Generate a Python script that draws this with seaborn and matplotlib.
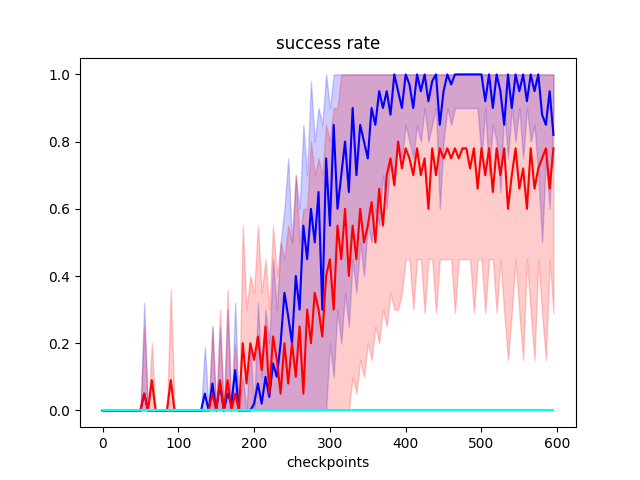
import numpy as np
import matplotlib
matplotlib.use("Agg")
import matplotlib.pyplot as plt
import seaborn as sns

# values sampled every 5 checkpoints, starting at checkpoint 0
blue_mean = [0] * 11 + [
    0.05, 0, 0, 0, 0, 0, 0, 0, 0, 0, 0, 0, 0, 0, 0, 0,
    0.05, 0, 0.08, 0, 0.08, 0, 0.05, 0.02, 0.12, 0, 0, 0, 0,
    0.02, 0.08, 0.02, 0.1, 0.04, 0.14, 0.1, 0.2, 0.35, 0.28, 0.2,
    0.4, 0.3, 0.55, 0.45, 0.6, 0.5, 0.65, 0.3, 0.75, 0.55,
    0.85, 0.6, 0.7, 0.8, 0.65, 0.9, 0.7, 0.85, 0.8, 0.75,
    0.9, 0.85, 0.95, 0.9, 0.95, 0.88, 1.0, 0.95, 0.9, 1.0,
    0.97, 0.9, 1.0, 0.95, 1.0, 0.92, 0.98, 1.0, 0.85, 0.95,
    1.0, 0.97, 1.0, 1.0, 1.0, 1.0, 1.0, 1.0, 1.0, 1.0,
    0.92, 1.0, 0.9, 1.0, 0.95, 0.85, 1.0, 0.9, 1.0, 0.95,
    1.0, 0.92, 1.0, 0.95, 1.0, 0.88, 0.85, 0.95, 0.82, 1.0]
blue_upper = [0] * 11 + [
    0.32, 0, 0, 0, 0, 0, 0, 0, 0, 0, 0, 0, 0, 0, 0, 0,
    0.19, 0, 0.25, 0, 0.25, 0, 0.3, 0, 0.32, 0, 0.1, 0, 0.2,
    0, 0.32, 0.1, 0.3, 0.2, 0.45, 0.3, 0.5, 0.6, 0.75, 0.5,
    0.7, 0.6, 0.85, 0.7, 0.98, 0.8, 0.9, 0.85, 1.0, 0.9] + [1.0] * 59
blue_lower = [0] * 60 + [
    0.2, 0.1, 0.3, 0.2, 0.35, 0.25, 0.45, 0.35, 0.5, 0.4,
    0.55, 0.5, 0.6, 0.55, 0.7, 0.6, 0.75, 0.7, 0.8, 0.75,
    0.85, 0.8, 0.75, 0.85, 0.8, 0.9, 0.8, 0.85, 0.9, 0.6,
    0.8, 0.9, 0.85, 0.9, 0.9, 0.9, 0.9, 0.9, 0.9, 0.9,
    0.75, 0.9, 0.7, 0.85, 0.8, 0.65, 0.9, 0.75, 0.9, 0.8,
    0.9, 0.75, 0.9, 0.8, 0.85, 0.7, 0.5, 0.75, 0.6, 0.9]

red_mean = [0] * 11 + [
    0.05, 0, 0.09, 0, 0, 0, 0, 0.09, 0, 0, 0, 0, 0, 0, 0, 0,
    0, 0, 0.05, 0, 0.09, 0, 0.09, 0, 0.05, 0, 0.2, 0.08, 0.2,
    0.15, 0.22, 0.12, 0.25, 0.05, 0.22, 0.15, 0.05, 0.2, 0.08, 0.2,
    0.1, 0.25, 0.05, 0.3, 0.2, 0.35, 0.3, 0.22, 0.4, 0.45,
    0.3, 0.55, 0.45, 0.6, 0.4, 0.55, 0.45, 0.6, 0.5, 0.55,
    0.62, 0.5, 0.66, 0.55, 0.7, 0.75, 0.67, 0.8, 0.72, 0.78,
    0.75, 0.7, 0.78, 0.7, 0.75, 0.6, 0.78, 0.7, 0.78, 0.75,
    0.78, 0.75, 0.78, 0.75, 0.78, 0.78, 0.72, 0.78, 0.66, 0.78,
    0.7, 0.78, 0.65, 0.78, 0.7, 0.78, 0.6, 0.7, 0.78, 0.66,
    0.72, 0.6, 0.78, 0.66, 0.72, 0.75, 0.78, 0.66, 0.78, 0.78]
red_upper = [0] * 11 + [
    0.25, 0, 0.2, 0, 0, 0, 0, 0.36, 0, 0, 0, 0, 0, 0, 0, 0,
    0, 0, 0.25, 0, 0.3, 0, 0.36, 0, 0.2, 0, 0.55, 0.3, 0.4,
    0.35, 0.55, 0.35, 0.45, 0.3, 0.55, 0.4, 0.5, 0.45, 0.55, 0.5,
    0.7, 0.5, 0.6, 0.6, 0.8, 0.7, 0.75, 0.7, 0.85, 0.8,
    0.9, 0.9, 1.0] + [1.0] * 56
red_lower = [0] * 66 + [
    0.1, 0.05, 0.15, 0.1, 0.2, 0.15, 0.25, 0.2, 0.3, 0.25,
    0.35, 0.3, 0.3, 0.35, 0.45, 0.45, 0.3, 0.45, 0.45, 0.29,
    0.45, 0.45, 0.29, 0.45, 0.45, 0.45, 0.45, 0.29, 0.45, 0.45,
    0.45, 0.45, 0.29, 0.45, 0.45, 0.29, 0.45, 0.45, 0.29, 0.45,
    0.29, 0.15, 0.29, 0.45, 0.29, 0.15, 0.45, 0.29, 0.15, 0.45,
    0.29, 0.15, 0.45, 0.29, 0.29]

n = min(len(blue_mean), len(blue_upper), len(blue_lower),
        len(red_mean), len(red_upper), len(red_lower))
checkpoints = np.arange(n) * 5
blue_mean, blue_upper, blue_lower = blue_mean[:n], blue_upper[:n], blue_lower[:n]
red_mean, red_upper, red_lower = red_mean[:n], red_upper[:n], red_lower[:n]
zeros = [0] * n

fig, ax = plt.subplots(figsize=(6.4, 4.8), dpi=100)

ax.fill_between(checkpoints, blue_lower, blue_upper, color="blue", alpha=0.2, lw=1)
ax.fill_between(checkpoints, red_lower, red_upper, color="red", alpha=0.2, lw=1)
sns.lineplot(x=checkpoints, y=blue_mean, color="blue", ax=ax)
sns.lineplot(x=checkpoints, y=red_mean, color="red", ax=ax)
sns.lineplot(x=checkpoints, y=zeros, color="gold", ax=ax)
sns.lineplot(x=checkpoints, y=zeros, color="cyan", ax=ax)

ax.set_title("success rate")
ax.set_xlabel("checkpoints")
ax.set_ylim(-0.05, 1.05)

plt.savefig("out.png")
